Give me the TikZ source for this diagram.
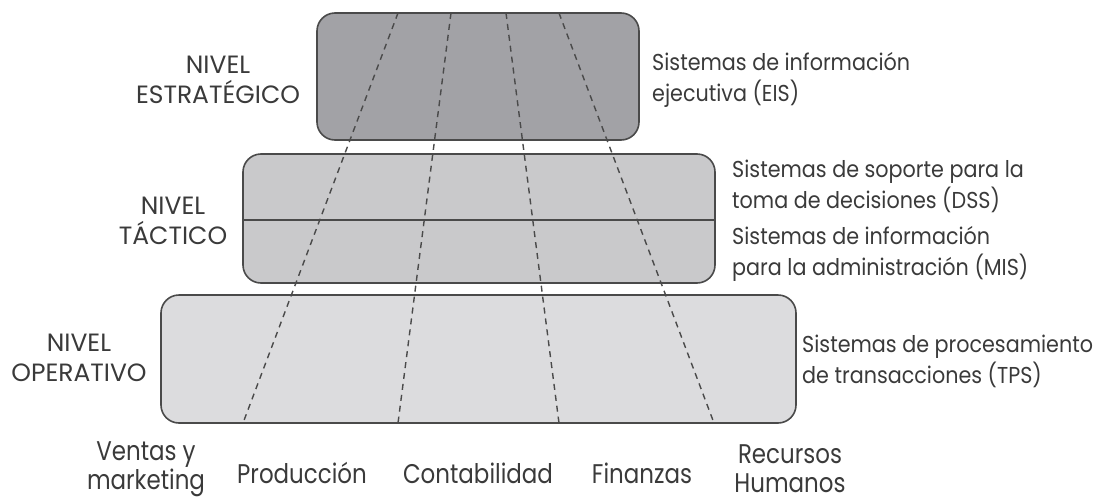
\documentclass[tikz,border=0pt]{standalone}
\usepackage{fontspec}
\setmainfont{Poppins}
\newfontfamily\condfont{Poppins}[FakeStretch=0.85]
\newfontfamily\txtfont{Poppins}[FakeStretch=0.9]
\definecolor{topfill}{HTML}{A2A2A6}
\definecolor{midfill}{HTML}{C9C9CB}
\definecolor{botfill}{HTML}{DCDCDE}
\definecolor{edge}{HTML}{4A4A4A}
\definecolor{ink}{HTML}{3A3A3A}
\begin{document}
\begin{tikzpicture}[x=1pt,y=-1pt,
  levelbox/.style={draw=edge,line width=1.6pt,rounded corners=18pt,inner sep=0pt,rectangle},
  divide/.style={draw=edge,line width=1.6pt},
  areadash/.style={draw=edge,line width=1.4pt,dash pattern=on 6pt off 5pt},
  levellabel/.style={align=center,text=ink,font=\fontsize{25}{30}\selectfont,inner sep=0pt},
  syslabel/.style={align=left,anchor=west,text=ink,font=\txtfont\fontsize{23}{31}\selectfont,inner sep=0pt},
  arealabel/.style={align=center,text=ink,font=\condfont\fontsize{27}{29}\selectfont,inner sep=0pt}]
\useasboundingbox (0,0) rectangle (1120,501);
% level boxes
\node[levelbox,fill=botfill,minimum width=635pt,minimum height=128pt] (bot) at (478.5,359) {};
\node[levelbox,fill=midfill,minimum width=472pt,minimum height=129pt] (mid) at (479,218.5) {};
\node[levelbox,fill=topfill,minimum width=322pt,minimum height=127pt] (top) at (478,76.5) {};
% divider in middle box
\coordinate (dl) at (243,220);
\coordinate (dr) at (715,220);
\draw[divide] (dl) -- (dr);
% functional area boundaries
\coordinate (t1) at (398,13);
\coordinate (t2) at (451,13);
\coordinate (t3) at (506,13);
\coordinate (t4) at (559,13);
\coordinate (b1) at (243,423);
\coordinate (b2) at (398,423);
\coordinate (b3) at (559,423);
\coordinate (b4) at (714,423);
\draw[areadash] (t1) -- (b1);
\draw[areadash] (t2) -- (b2);
\draw[areadash] (t3) -- (b3);
\draw[areadash] (t4) -- (b4);
% level labels
\node[levellabel] (lstrat) at (218,80) {NIVEL\\ESTRATÉGICO};
\node[levellabel] (ltact) at (173,221) {NIVEL\\TÁCTICO};
\node[levellabel] (loper) at (79,358) {NIVEL\\OPERATIVO};
% system labels
\node[syslabel] (eis) at (652,80) {Sistemas de información\\ejecutiva (EIS)};
\node[syslabel] (dss) at (732,186) {Sistemas de soporte para la\\toma de decisiones (DSS)};
\node[syslabel] (mis) at (732,254) {Sistemas de información\\para la administración (MIS)};
\node[syslabel] (tps) at (802,361) {Sistemas de procesamiento\\de transacciones (TPS)};
% functional area labels
\node[arealabel] (ventas) at (146,469) {Ventas y\\marketing};
\node[arealabel] (prod) at (302,473) {Producción};
\node[arealabel] (cont) at (478,473) {Contabilidad};
\node[arealabel] (fin) at (642,473) {Finanzas};
\node[arealabel] (rrhh) at (790,469) {Recursos\\Humanos};
\end{tikzpicture}
\end{document}
